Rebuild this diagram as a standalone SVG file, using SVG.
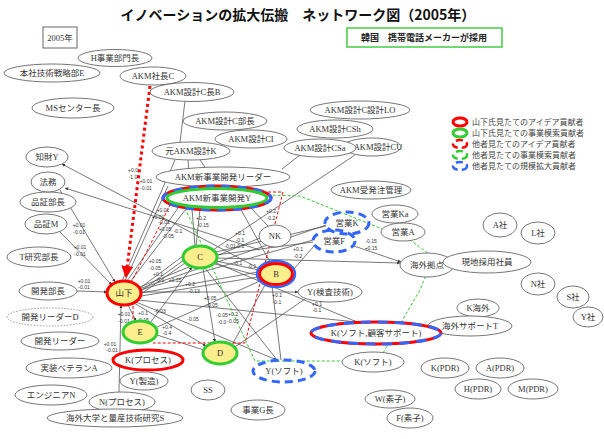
<svg xmlns="http://www.w3.org/2000/svg" width="604" height="439" viewBox="0 0 604 439">
<style>
.n{fill:#fff;stroke:#666;stroke-width:0.9}
.t{font-family:"Liberation Serif","Noto Sans CJK JP",serif;font-size:8.5px;fill:#333;text-anchor:middle}
.y{fill:#fbee8c}
.rs{fill:none;stroke:#f00;stroke-width:3}
.gs{fill:none;stroke:#3c3;stroke-width:3}
.bd{fill:none;stroke:#36f;stroke-width:3;stroke-dasharray:8 5}
.e line{stroke:#555;stroke-width:0.8}
.l{font-family:"Liberation Sans",sans-serif;font-size:5px;fill:#333;text-anchor:middle}
.lg{font-family:"Noto Sans CJK JP",sans-serif;font-size:8px;fill:#444}
</style>
<defs>
<marker id="a" viewBox="0 0 6 6" refX="6" refY="3" markerWidth="4" markerHeight="4" orient="auto"><path d="M0,0L6,3L0,6z" fill="#333"/></marker>
<marker id="ra" viewBox="0 0 6 6" refX="5" refY="3" markerWidth="4" markerHeight="4" orient="auto"><path d="M0,0L6,3L0,6z" fill="#f00"/></marker>
</defs>
<rect width="604" height="439" fill="#fff"/>
<text x="298" y="20" style="font-family:'Noto Sans CJK JP',sans-serif;font-size:14px;font-weight:bold;fill:#111" text-anchor="middle">イノベーションの拡大伝搬　ネットワーク図（2005年）</text>
<g id="year"><rect x="43" y="27" width="34" height="21" fill="#fff" stroke="#666"/><text class="t" x="60" y="41">2005年</text></g>
<g id="korea"><rect x="347" y="28" width="155" height="19" fill="#fff" stroke="#4c4" stroke-width="1.5"/><text x="424" y="41" style="font-family:'Noto Sans CJK JP',sans-serif;font-size:9px;font-weight:bold;fill:#222" text-anchor="middle">韓国　携帯電話メーカーが採用</text></g>

<g id="connectors">
<g class="e">
<line x1="60" y1="190" x2="115" y2="282" marker-end="url(#a)"/>
<line x1="60" y1="232" x2="112" y2="285" marker-end="url(#a)"/>
<line x1="77" y1="291" x2="107" y2="292" marker-end="url(#a)"/>
<line x1="119" y1="392" x2="121" y2="305" marker-end="url(#a)"/>
<line x1="128" y1="305" x2="136" y2="321" marker-end="url(#a)"/>
<line x1="140" y1="288" x2="183" y2="256"/>
<line x1="141" y1="291" x2="184" y2="260"/>
<line x1="141" y1="294" x2="185" y2="263"/>
<line x1="127" y1="281" x2="178" y2="208"/>
<line x1="130" y1="282" x2="186" y2="209"/>
<line x1="125" y1="281" x2="168" y2="186"/>
<line x1="122" y1="281" x2="175" y2="160"/>
<line x1="140" y1="287" x2="260" y2="238"/>
<line x1="141" y1="293" x2="258" y2="272"/>
<line x1="141" y1="296" x2="258" y2="277"/>
<line x1="141" y1="292" x2="298" y2="292" marker-end="url(#a)"/>
<line x1="138" y1="300" x2="357" y2="322" marker-end="url(#a)"/>
<line x1="136" y1="302" x2="277" y2="360" marker-end="url(#a)"/>
<line x1="134" y1="303" x2="206" y2="346" marker-end="url(#a)"/>
<line x1="140" y1="290" x2="313" y2="240"/>
<line x1="139" y1="289" x2="326" y2="225"/>
<line x1="258" y1="268" x2="62" y2="164" marker-end="url(#a)"/>
<line x1="260" y1="250" x2="65" y2="188" marker-end="url(#a)"/>
<line x1="196" y1="246" x2="200" y2="209"/>
<line x1="216" y1="255" x2="313" y2="242"/>
<line x1="216" y1="252" x2="326" y2="226"/>
<line x1="217" y1="258" x2="400" y2="263" marker-end="url(#a)"/>
<line x1="216" y1="261" x2="259" y2="270"/>
<line x1="215" y1="264" x2="260" y2="276"/>
<line x1="203" y1="268" x2="215" y2="342" marker-end="url(#a)"/>
<line x1="195" y1="246" x2="188" y2="160"/>
<line x1="355" y1="155" x2="213" y2="250"/>
<line x1="150" y1="323" x2="192" y2="267" marker-end="url(#a)"/>
<line x1="155" y1="328" x2="260" y2="281"/>
<line x1="157" y1="335" x2="204" y2="350"/>
<line x1="232" y1="345" x2="265" y2="285"/>
<line x1="235" y1="347" x2="305" y2="299"/>
<line x1="272" y1="286" x2="281" y2="360"/>
<line x1="240" y1="208" x2="270" y2="262"/>
<line x1="250" y1="207" x2="268" y2="226"/>
<line x1="205" y1="268" x2="277" y2="360"/>
<line x1="216" y1="263" x2="357" y2="322"/>
<line x1="293" y1="270" x2="314" y2="246"/>
<line x1="185" y1="101" x2="180" y2="142"/>
<line x1="200" y1="160" x2="205" y2="167"/>
<line x1="282" y1="169" x2="300" y2="155"/>
<line x1="354" y1="246" x2="401" y2="262" marker-end="url(#a)"/>
</g>
<path d="M150,86L126,276" fill="none" stroke="#f00" stroke-width="3" stroke-dasharray="3 3" marker-end="url(#ra)"/>
<g fill="none" stroke="#f00" stroke-width="1" stroke-dasharray="3 2">
<path d="M131,283L170,205"/>
<path d="M268,192L283,192L245,343L153,343"/>
<path d="M133,296L133,343"/>
</g>
<g fill="none" stroke="#3c3" stroke-width="1" stroke-dasharray="3 2">
<path d="M185,208L255,361L343,361"/>
<path d="M383,353L420,290L433,257L410,240L300,196L268,195"/>
</g>
<g id="labels">
<text class="l" x="133" y="172">+0.0</text><text class="l" x="133" y="179">-1.0</text>
<text class="l" x="146" y="183">+0.01</text><text class="l" x="146" y="190">-0.01</text>
<text class="l" x="79" y="227">+0.01</text><text class="l" x="79" y="234">-0.01</text>
<text class="l" x="80" y="249">+0.01</text><text class="l" x="80" y="256">-0.01</text>
<text class="l" x="84" y="283">+0.01</text><text class="l" x="84" y="289">-0.01</text>
<text class="l" x="163" y="212">+0.01</text><text class="l" x="158" y="219">+0.01</text><text class="l" x="164" y="224">-0.01</text>
<text class="l" x="165" y="231">+0.05</text><text class="l" x="168" y="238">-0.05</text><text class="l" x="178" y="233">-0.1</text>
<text class="l" x="201" y="220">+0.2</text><text class="l" x="203" y="227">-0.15</text>
<text class="l" x="155" y="263">+0.05</text><text class="l" x="155" y="270">-0.05</text>
<text class="l" x="158" y="276">+0.1</text><text class="l" x="160" y="282">-0.1</text>
<text class="l" x="175" y="282">+0.15</text><text class="l" x="190" y="286">+0.2</text><text class="l" x="194" y="293">-0.13</text>
<text class="l" x="271" y="213">+0.2</text><text class="l" x="271" y="220">-0.2</text>
<text class="l" x="240" y="235">+0.1</text><text class="l" x="240" y="242">-0.1</text>
<text class="l" x="230" y="248">-0.01</text><text class="l" x="240" y="248">-0.1</text>
<text class="l" x="298" y="251">+0.1</text><text class="l" x="298" y="258">-0.2</text>
<text class="l" x="371" y="243">-0.15</text><text class="l" x="371" y="250">+0.15</text>
<text class="l" x="238" y="265">-0.1</text><text class="l" x="252" y="268">-0.1</text>
<text class="l" x="277" y="297">+0.1</text><text class="l" x="277" y="304">-0.1</text>
<text class="l" x="317" y="306">+0.1</text><text class="l" x="317" y="312">-0.1</text>
<text class="l" x="233" y="316">+0.2</text><text class="l" x="233" y="323">-0.05</text>
<text class="l" x="210" y="300">+0.05</text><text class="l" x="212" y="307">-0.05</text>
<text class="l" x="222" y="317">-0.05</text><text class="l" x="222" y="324">-0.0</text>
<text class="l" x="124" y="316">+0.01</text><text class="l" x="124" y="323">-0.01</text>
<text class="l" x="143" y="315">+0.1</text><text class="l" x="143" y="322">-0.15</text>
<text class="l" x="110" y="346">+0.01</text><text class="l" x="112" y="352">-0.01</text>
<text class="l" x="167" y="329">+0.4</text><text class="l" x="167" y="335">-0.4</text>
<text class="l" x="193" y="321">-0.05</text><text class="l" x="160" y="313">-0.03</text>
</g>
</g>

<g id="n-hq"><ellipse class="n" cx="115" cy="58" rx="37" ry="8.5"/><text class="t" x="115" y="61">H事業部門長</text></g>
<g id="n-honsha"><ellipse class="n" cx="52" cy="73" rx="48" ry="9"/><text class="t" x="52" y="76">本社技術戦略部E</text></g>
<g id="n-akmc"><ellipse class="n" cx="153" cy="76" rx="33" ry="9"/><text class="t" x="153" y="79">AKM社長C</text></g>
<g id="n-akmb"><ellipse class="n" cx="192" cy="92" rx="42" ry="9.5"/><text class="t" x="192" y="95">AKM設計C長B</text></g>
<g id="n-ms"><ellipse class="n" cx="73" cy="108" rx="41" ry="10"/><text class="t" x="73" y="111">MSセンター長</text></g>
<g id="n-akmbu"><ellipse class="n" cx="225" cy="121" rx="42" ry="9"/><text class="t" x="225" y="124">AKM設計C部長</text></g>
<g id="n-akmci"><ellipse class="n" cx="251" cy="139" rx="36" ry="9"/><text class="t" x="251" y="142">AKM設計CI</text></g>
<g id="n-motok"><ellipse class="n" cx="191" cy="151" rx="39" ry="9"/><text class="t" x="191" y="154">元AKM設計K</text></g>
<g id="n-lo"><ellipse class="n" cx="360" cy="110" rx="50" ry="9"/><text class="t" x="360" y="113">AKM設計C設計LO</text></g>
<g id="n-csh"><ellipse class="n" cx="335" cy="129" rx="38" ry="9"/><text class="t" x="335" y="132">AKM設計CSh</text></g>
<g id="n-cu"><ellipse class="n" cx="372" cy="147" rx="29" ry="9"/><text class="t" x="378" y="150">AKM設計CU</text></g>
<g id="n-csa"><ellipse class="n" cx="320" cy="148" rx="36" ry="9"/><text class="t" x="320" y="151">AKM設計CSa</text></g>
<g id="n-leader"><ellipse class="n" cx="223" cy="177" rx="67" ry="10"/><text class="t" x="223" y="180">AKM新事業開発リーダー</text></g>
<g id="n-newy"><ellipse cx="217" cy="198" rx="54" ry="12" fill="#fff" stroke="#f00" stroke-width="3"/><ellipse cx="217" cy="198" rx="54" ry="12" fill="none" stroke="#36f" stroke-width="3" stroke-dasharray="9 7"/><ellipse cx="217" cy="198" rx="50" ry="9.5" class="gs"/><text class="t" x="217" y="201">AKM新事業開発Y</text></g>
<g id="n-juhatchu"><ellipse class="n" cx="371" cy="190" rx="40" ry="9"/><text class="t" x="371" y="193">AKM受発注管理</text></g>
<g id="n-eka"><ellipse class="n" cx="395" cy="214" rx="23" ry="9"/><text class="t" x="395" y="217">営業Ka</text></g>
<g id="n-ea"><ellipse class="n" cx="403" cy="232" rx="22" ry="9"/><text class="t" x="403" y="235">営業A</text></g>
<g id="n-ek"><ellipse class="bd" cx="347" cy="223" rx="22" ry="11" fill="#fff"/><text class="t" x="347" y="226">営業K</text></g>
<g id="n-ef"><ellipse class="bd" cx="334" cy="241" rx="21" ry="11" fill="#fff"/><text class="t" x="334" y="244">営業F</text></g>
<g id="n-nk"><ellipse class="n" cx="275" cy="236" rx="16" ry="11"/><text class="t" x="275" y="239">NK</text></g>
<g id="n-b"><ellipse cx="276" cy="274" rx="19" ry="13" fill="none" stroke="#36f" stroke-width="2.5"/><ellipse cx="276" cy="274" rx="16.5" ry="10.5" class="y" stroke="#f00" stroke-width="3"/><text class="t" x="276" y="277">B</text></g>
<g id="n-kaigai"><ellipse class="n" cx="427" cy="265" rx="27" ry="12"/><text class="t" x="427" y="268">海外拠点</text></g>
<g id="n-genchi"><ellipse class="n" cx="487" cy="262" rx="44" ry="11"/><text class="t" x="487" y="265">現地採用社員</text></g>
<g id="n-asha"><ellipse class="n" cx="500" cy="225" rx="17" ry="12"/><text class="t" x="500" y="228">A社</text></g>
<g id="n-lsha"><ellipse class="n" cx="538" cy="233" rx="17" ry="11"/><text class="t" x="538" y="236">L社</text></g>
<g id="n-nsha"><ellipse class="n" cx="538" cy="284" rx="17" ry="11"/><text class="t" x="538" y="287">N社</text></g>
<g id="n-ssha"><ellipse class="n" cx="573" cy="297" rx="16" ry="11"/><text class="t" x="573" y="300">S社</text></g>
<g id="n-ysha"><ellipse class="n" cx="588" cy="317" rx="15" ry="10"/><text class="t" x="588" y="320">Y社</text></g>
<g id="n-kkaigai"><ellipse class="n" cx="478" cy="308" rx="21" ry="9"/><text class="t" x="478" y="311">K海外</text></g>
<g id="n-support"><ellipse class="n" cx="470" cy="326" rx="42" ry="10"/><text class="t" x="470" y="329">海外サポートT</text></g>
<g id="n-ksoft2"><ellipse cx="376" cy="333" rx="65" ry="11" fill="#fff" stroke="#f00" stroke-width="3"/><ellipse cx="376" cy="333" rx="65" ry="11" fill="none" stroke="#36f" stroke-width="3" stroke-dasharray="10 7"/><text class="t" x="376" y="336">K(ソフト,顧客サポート)</text></g>
<g id="n-kensa"><ellipse class="n" cx="330" cy="292" rx="32" ry="10"/><text class="t" x="330" y="295">Y(検査技術)</text></g>
<g id="n-ksoft"><ellipse class="n" cx="373" cy="362" rx="31" ry="10"/><text class="t" x="373" y="365">K(ソフト)</text></g>
<g id="n-kpdr"><ellipse class="n" cx="445" cy="368" rx="24" ry="10"/><text class="t" x="445" y="371">K(PDR)</text></g>
<g id="n-apdr"><ellipse class="n" cx="500" cy="368" rx="24" ry="10"/><text class="t" x="500" y="371">A(PDR)</text></g>
<g id="n-hpdr"><ellipse class="n" cx="478" cy="389" rx="23" ry="10"/><text class="t" x="478" y="392">H(PDR)</text></g>
<g id="n-mpdr"><ellipse class="n" cx="533" cy="389" rx="25" ry="10"/><text class="t" x="533" y="392">M(PDR)</text></g>
<g id="n-w"><ellipse class="n" cx="390" cy="399" rx="25" ry="9"/><text class="t" x="390" y="402">W(素子)</text></g>
<g id="n-f"><ellipse class="n" cx="410" cy="418" rx="23" ry="10"/><text class="t" x="410" y="421">F(素子)</text></g>
<g id="n-jigyog"><ellipse class="n" cx="258" cy="410" rx="27" ry="10"/><text class="t" x="258" y="413">事業G長</text></g>
<g id="n-ss"><ellipse class="n" cx="208" cy="390" rx="17" ry="10"/><text class="t" x="208" y="393">SS</text></g>
<g id="n-ysoft"><ellipse class="bd" cx="284" cy="371" rx="31" ry="11" fill="#fff"/><text class="t" x="284" y="374">Y(ソフト)</text></g>
<g id="n-d"><ellipse cx="220" cy="353" rx="17" ry="11" class="y" stroke="#3c3" stroke-width="3"/><text class="t" x="220" y="356">D</text></g>
<g id="n-c"><ellipse cx="200" cy="257" rx="17" ry="11" class="y" stroke="#3c3" stroke-width="3"/><text class="t" x="200" y="260">C</text></g>
<g id="n-e"><ellipse cx="140" cy="332" rx="17" ry="11" class="y" stroke="#3c3" stroke-width="3"/><text class="t" x="140" y="335">E</text></g>
<g id="n-yamashita"><ellipse cx="124" cy="293" rx="17" ry="12" class="y" stroke="#f00" stroke-width="3"/><text class="t" x="124" y="296">山下</text></g>
<g id="n-kproc"><ellipse cx="148" cy="360" rx="35" ry="10" fill="#fff" stroke="#f00" stroke-width="3"/><text class="t" x="148" y="363">K(プロセス)</text></g>
<g id="n-yseizo"><ellipse class="n" cx="144" cy="381" rx="24" ry="9"/><text class="t" x="144" y="384">Y(製造)</text></g>
<g id="n-nproc"><ellipse class="n" cx="122" cy="402" rx="33" ry="10"/><text class="t" x="122" y="405">N(プロセス)</text></g>
<g id="n-univ"><ellipse class="n" cx="115" cy="418" rx="68" ry="9"/><text class="t" x="115" y="421">海外大学と量産技術研究S</text></g>
<g id="n-eng"><ellipse class="n" cx="51" cy="395" rx="36" ry="10"/><text class="t" x="51" y="398">エンジニアN</text></g>
<g id="n-vet"><ellipse class="n" cx="69" cy="368" rx="43" ry="10"/><text class="t" x="69" y="371">実装ベテランA</text></g>
<g id="n-devl"><ellipse class="n" cx="60" cy="341" rx="39" ry="9"/><text class="t" x="60" y="344">開発リーダー</text></g>
<g id="n-devld"><ellipse cx="50" cy="317" rx="43" ry="9" fill="#fff" stroke="#888" stroke-width="0.9" stroke-dasharray="1.5 1.5"/><text class="t" x="50" y="320">開発リーダーD</text></g>
<g id="n-devbu"><ellipse class="n" cx="48" cy="291" rx="29" ry="9"/><text class="t" x="48" y="294">開発部長</text></g>
<g id="n-tken"><ellipse class="n" cx="39" cy="257" rx="32" ry="10"/><text class="t" x="39" y="260">T研究部長</text></g>
<g id="n-qm"><ellipse class="n" cx="46" cy="224" rx="21" ry="10"/><text class="t" x="46" y="227">品証M</text></g>
<g id="n-qbu"><ellipse class="n" cx="48" cy="202" rx="28" ry="10"/><text class="t" x="48" y="205">品証部長</text></g>
<g id="n-homu"><ellipse class="n" cx="48" cy="182" rx="17" ry="10"/><text class="t" x="48" y="185">法務</text></g>
<g id="n-chizai"><ellipse class="n" cx="47" cy="157" rx="21" ry="10"/><text class="t" x="47" y="160">知財Y</text></g>

<g id="legend">
<ellipse cx="460" cy="122" rx="7" ry="4" class="rs" stroke-width="2.5"/><text class="lg" x="472" y="125">山下氏見たてのアイデア貢献者</text>
<ellipse cx="460" cy="133" rx="7" ry="4" class="gs" stroke-width="2.5"/><text class="lg" x="472" y="136">山下氏見たての事業模索貢献者</text>
<ellipse cx="460" cy="144" rx="7" ry="4" fill="none" stroke="#f00" stroke-width="2.5" stroke-dasharray="7 4"/><text class="lg" x="472" y="147">他者見たてのアイデア貢献者</text>
<ellipse cx="460" cy="155" rx="7" ry="4" fill="none" stroke="#3c3" stroke-width="2.5" stroke-dasharray="7 4"/><text class="lg" x="472" y="158">他者見たての事業模索貢献者</text>
<ellipse cx="460" cy="166" rx="7" ry="4" fill="none" stroke="#36f" stroke-width="2.5" stroke-dasharray="7 4"/><text class="lg" x="472" y="169">他者見たての規模拡大貢献者</text>
</g>
</svg>
